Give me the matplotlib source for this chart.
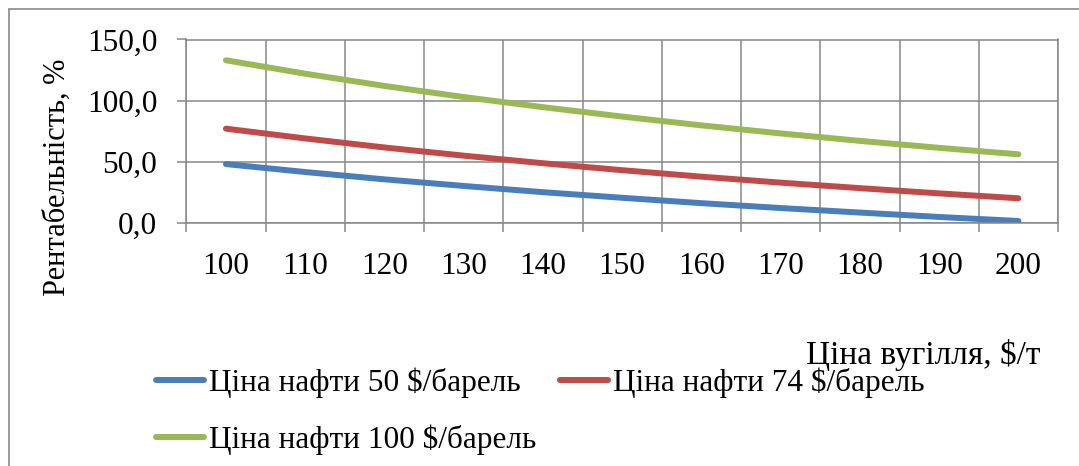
import numpy as np
import matplotlib
matplotlib.use("Agg")
from matplotlib import pyplot as plt
from matplotlib.patches import Rectangle

# ціна вугілля, $/т
coal_price = [100, 110, 120, 130, 140, 150, 160, 170, 180, 190, 200]

# рентабельність, % при різних цінах на нафту
oil_50 = [48.0, 41.5, 35.5, 30.1, 25.0, 20.4, 16.0, 12.0, 8.3, 4.7, 1.4]
oil_74 = [77.0, 69.0, 61.6, 54.9, 48.7, 43.0, 37.7, 32.8, 28.3, 24.0, 20.0]
oil_100 = [133.0, 122.0, 112.0, 102.9, 94.6, 86.9, 79.7, 73.1, 67.0, 61.3, 56.0]

series_names = ["Ціна нафти 50 $/барель", "Ціна нафти 74 $/барель", "Ціна нафти 100 $/барель"]
y_ticks = [0, 50, 100, 150]
y_labels = ["0,0", "50,0", "100,0", "150,0"]

plt.rcParams['font.family'] = ['Liberation Serif', 'DejaVu Serif']
grid_col = '#878787'

fig = plt.figure(figsize=(10.79, 4.66), dpi=100)
W, H = 1079.0, 466.0

# рамка діаграми
fig.add_artist(Rectangle((9 / W, -0.1), 1.2, 1 - 9 / H + 0.1, transform=fig.transFigure,
                         fill=False, edgecolor='#8a8a8a', linewidth=1.2))

ax = fig.add_axes([186.3 / W, 1 - 222.7 / H, (1058 - 186.3) / W, (222.7 - 39.5) / H])

x = np.arange(len(coal_price))
colors = ['#4A7EBB', '#BE4B48', '#98B954']
lines = []
for vals, name, c in zip([oil_50, oil_74, oil_100], series_names, colors):
    ln, = ax.plot(x, vals, color=c, linewidth=4.3, solid_capstyle='round',
                  solid_joinstyle='round', label=name)
    lines.append(ln)

ax.set_xlim(-0.5, len(coal_price) - 0.5)
ax.set_ylim(0, 150)

# межі категорій - сітка, підписи по центру
ax.set_xticks(np.arange(-0.5, len(coal_price), 1.0))
ax.set_xticklabels([])
ax.set_xticks(x, minor=True)
ax.set_xticklabels([str(v) for v in coal_price], minor=True)
ax.tick_params(axis='x', which='major', length=6.5, width=1.1, color=grid_col, direction='out')
ax.tick_params(axis='x', which='minor', length=0, pad=21, labelsize=22.5)

ax.set_yticks(y_ticks)
ax.set_yticklabels(y_labels)
ax.tick_params(axis='y', length=6.5, width=1.1, color=grid_col, pad=14.5, labelsize=22.5)

ax.grid(True, which='major', color=grid_col, linewidth=1.1)
ax.set_axisbelow(True)
for s in ax.spines.values():
    s.set_color(grid_col)
    s.set_linewidth(1.1)

fig.text(57 / W, 1 - 177 / H, "Рентабельність, %", rotation=90, ha='center', va='center',
         fontsize=22)
fig.text(1040 / W, 1 - 355 / H, "Ціна вугілля, $/т", ha='right', va='center', fontsize=24)

# порядок по рядках: 50, 74 / 100
order = [0, 2, 1]
ax.legend([lines[i] for i in order], [series_names[i] for i in order],
          loc='upper left', bbox_to_anchor=(156 / W, 1 - 367 / H),
          bbox_transform=fig.transFigure, ncol=2, frameon=False, fontsize=22.5,
          handlelength=1.55, handletextpad=0.15, columnspacing=0.75,
          labelspacing=0.85, borderpad=0, borderaxespad=0)

fig.savefig("out.png", dpi=100)
